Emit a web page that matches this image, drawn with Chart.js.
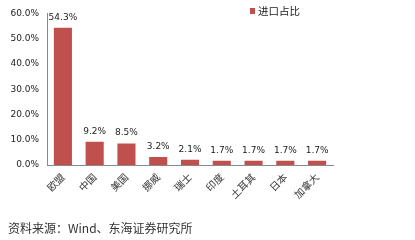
<!DOCTYPE html>
<html>
<head>
<meta charset="utf-8">
<script src="https://cdn.jsdelivr.net/npm/chart.js@4"></script>
<style>
  body { margin: 0; background: #fff; }
  #wrap { position: relative; width: 415px; height: 240px; }
  #source {
    position: absolute; left: 8px; top: 219px;
    font: 12px "Noto Sans CJK SC", sans-serif; color: #333;
  }
</style>
</head>
<body>
<div id="wrap">
  <canvas id="chart" width="415" height="240"></canvas>
  <div id="source">资料来源：Wind、东海证券研究所</div>
</div>
<script>
const categories = ["欧盟", "中国", "美国", "挪威", "瑞士", "印度", "土耳其", "日本", "加拿大"]
const importShare = [54.3, 9.2, 8.5, 3.2, 2.1, 1.7, 1.7, 1.7, 1.7]
const seriesName = "进口占比"
const barColor = "#C0504D"

// value labels above bars
const barLabels = {
  id: "barLabels",
  afterDatasetsDraw(chart) {
    const ctx = chart.ctx
    const meta = chart.getDatasetMeta(0)
    ctx.save()
    ctx.font = "9px 'DejaVu Sans'"
    ctx.fillStyle = "#222"
    ctx.textAlign = "center"
    ctx.textBaseline = "bottom"
    meta.data.forEach((bar, i) => {
      ctx.fillText(importShare[i].toFixed(1) + "%", bar.x, bar.y - 6)
    })
    ctx.restore()
  }
}

// simple legend top right
const legendBox = {
  id: "legendBox",
  afterDraw(chart) {
    const ctx = chart.ctx
    ctx.save()
    ctx.fillStyle = barColor
    ctx.fillRect(250, 8, 5, 6)
    ctx.font = "10.5px 'Noto Sans CJK SC'"
    ctx.fillStyle = "#222"
    ctx.textBaseline = "middle"
    ctx.fillText(seriesName, 258, 11)
    ctx.restore()
  }
}

new Chart(document.getElementById("chart").getContext("2d"), {
  type: "bar",
  data: {
    labels: categories,
    datasets: [{
      label: seriesName,
      data: importShare,
      backgroundColor: barColor,
      barPercentage: 0.57,
      categoryPercentage: 1,
    }],
  },
  options: {
    responsive: false,
    animation: false,
    layout: {padding: {top: 12, right: 82, left: 0, bottom: 0}},
    plugins: {legend: {display: false}, tooltip: {enabled: false}},
    scales: {
      x: {
        grid: {display: false, drawTicks: false},
        border: {color: "#888"},
        ticks: {
          minRotation: 45, maxRotation: 45, padding: 6,
          color: "#333", font: {family: "Noto Sans CJK SC", size: 10},
        },
        afterFit(axis) { axis.height = 75 },
      },
      y: {
        min: 0, max: 60,
        grid: {display: false, drawTicks: false},
        border: {color: "#888"},
        ticks: {
          stepSize: 10, padding: 8,
          color: "#222", font: {family: "DejaVu Sans", size: 9},
          callback: v => v.toFixed(1) + "%",
        },
        afterFit(axis) { axis.width = 47 },
      },
    },
  },
  plugins: [barLabels, legendBox],
})
</script>
</body>
</html>
